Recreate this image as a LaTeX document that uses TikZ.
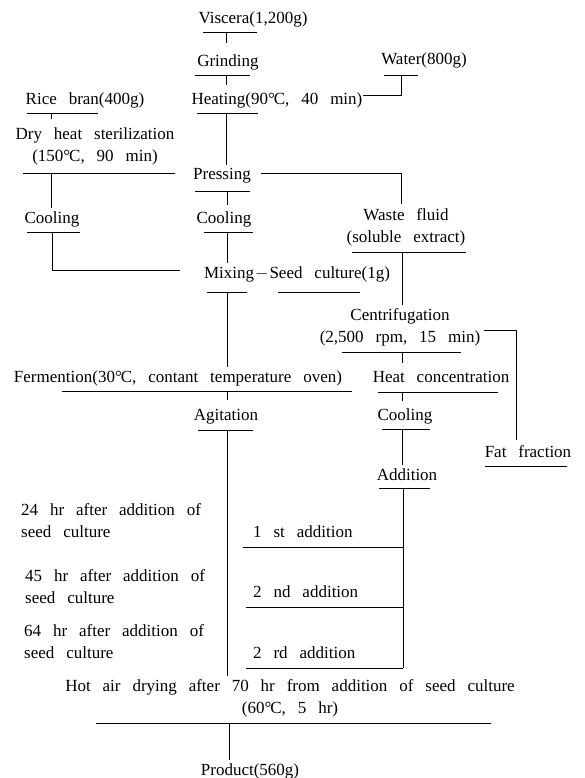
\documentclass[tikz,border=0pt]{standalone}
\usepackage{fontspec}
\setmainfont{Liberation Serif}
\usetikzlibrary{positioning}
\newcommand{\degc}{°\kern-.06em C}
\protected\def\flowfont{\fontsize{17}{22}\selectfont\spaceskip=0.7em plus 0.1em\relax}

\begin{document}
\begin{tikzpicture}[x=1pt,y=-1pt,
 font=\flowfont,
 stage/.style={inner xsep=0pt,inner ysep=3pt,anchor=base,align=center},
 note/.style={inner sep=0pt,anchor=base west,align=left},
 bar/.style={line width=.9pt},
 link/.style={line width=.7pt}]
\useasboundingbox (0,0) rectangle (585,778);

% stages (two-line nodes sit on their last baseline)
\node[stage] (visc) at (253,24) {Viscera(1,200g)};
\node[stage] (grind) at (228,67) {Grinding};
\node[stage] (heat) at (277,105) {Heating(90\degc, 40 min)};
\node[stage] (water) at (424,65) {Water(800g)};
\node[stage] (rice) at (85,105) {Rice bran(400g)};
\node[stage] (dry) at (95,162) {Dry heat sterilization\\(150\degc, 90 min)};
\node[stage] (press) at (222,179) {Pressing};
\node[stage] (cool1) at (52,223) {Cooling};
\node[stage] (cool2) at (224,223) {Cooling};
\node[stage] (waste) at (406,242) {Waste fluid\\(soluble extract)};
\node[stage] (mix) at (297,278) {Mixing\kern1pt$-$\kern1pt Seed culture(1g)};
\node[stage] (centr) at (400,342) {Centrifugation\\(2,500 rpm, 15 min)};
\node[stage] (ferm) at (178,382) {Fermention(30\degc, contant temperature oven)};
\node[stage] (hconc) at (441,382) {Heat concentration};
\node[stage] (agit) at (226,420) {Agitation};
\node[stage] (cool3) at (405,420) {Cooling};
\node[stage] (fat) at (528,457) {Fat fraction};
\node[stage] (add) at (407,480) {Addition};
\node[note] (t24) at (21,537) {24 hr after addition of\\seed culture};
\node[note] (t45) at (25,603) {45 hr after addition of\\seed culture};
\node[note] (t64) at (24,658) {64 hr after addition of\\seed culture};
\node[note] (add1) at (253,537) {1 st addition};
\node[note] (add2) at (253,597) {2 nd addition};
\node[note] (add3) at (253,658) {2 rd addition};
\node[stage] (hot) at (290,713) {Hot air drying after 70 hr from addition of seed culture\\(60\degc, 5 hr)};
\node[stage] (prod) at (250,775) {Product(560g)};

% underlines
\draw[bar] (203,32) -- (257,32);
\draw[bar] (195,75) -- (250,75);
\draw[bar] (384,75) -- (418,75);
\draw[bar] (197,113) -- (258,113);
\draw[bar] (27,113) -- (98,113);
\draw[bar] (23,173) -- (175,173);
\draw[bar] (195,191) -- (250,191);
\draw[bar] (27,232) -- (80,232);
\draw[bar] (204,232) -- (253,232);
\draw[bar] (352,252) -- (466,252);
\draw[bar] (207,292) -- (247,292);
\draw[bar] (278,292) -- (360,292);
\draw[bar] (342,352) -- (461,352);
\draw[bar] (62,391) -- (352,391);
\draw[bar] (378,392) -- (498,392);
\draw[bar] (198,430) -- (253,430);
\draw[bar] (382,429) -- (430,429);
\draw[bar] (485,466) -- (567,466);
\draw[bar] (379,488) -- (430,488);
\draw[bar] (96,723) -- (491,723);

% tick points on the underlines
\coordinate (vb) at (226,32);
\coordinate (gb) at (226,75);
\coordinate (wb) at (401,75);
\coordinate (hb) at (226,113);
\coordinate (rb) at (51,113);
\coordinate (db) at (51,173);
\coordinate (pb) at (227,191);
\coordinate (c1b) at (52,232);
\coordinate (c2b) at (227,232);
\coordinate (wfb) at (402,252);
\coordinate (mb) at (227,292);
\coordinate (cb) at (402,352);
\coordinate (fb) at (227,391);
\coordinate (hcb) at (402,392);
\coordinate (ab) at (227,430);
\coordinate (c3b) at (402,429);
\coordinate (adb) at (403,488);
\coordinate (hab) at (229,723);
\coordinate (wtop) at (401,204);
\coordinate (ftop) at (516,440);

% links
\draw[link] (vb) -- ++(0,11);
\draw[link] (gb) -- ++(0,10);
\draw[link] (wb) |- ([yshift=6pt]heat.east);
\draw[link] (rb) -- ++(0,6);
\draw[link] (hb) -- (hb |- press.north);
\draw[link] (db) -- (db |- cool1.north);
\draw[link] ([xshift=10pt,yshift=2pt]press.east) -| (wtop);
\draw[link] (pb) -- ++(0,14);
\draw[link] (c1b) |- ([xshift=-24pt,yshift=4pt]mix.west);
\draw[link] (c2b) -- (c2b |- mix.north);
\draw[link] (wfb) -- (wfb |- centr.north);
\draw[link] ([xshift=4pt,yshift=-4pt]centr.east) -| (ftop);
\draw[link] (cb) -- ++(0,11);
\draw[link] (mb) -- (mb |- ferm.north);
\draw[link] (fb) -- ++(0,9);
\draw[link] (hcb) -- ++(0,9);
\draw[link] (ab) -- (ab |- hot.north);
\draw[link] (c3b) -- (c3b |- add.north);
\draw[link] (adb) -- (403,668);
\draw[link] (243,547) -- (403,547);
\draw[link] (246,607) -- (403,607);
\draw[link] (246,668) -- (403,668);
\draw[link] (hab) -- (hab |- prod.north);
\end{tikzpicture}
\end{document}
